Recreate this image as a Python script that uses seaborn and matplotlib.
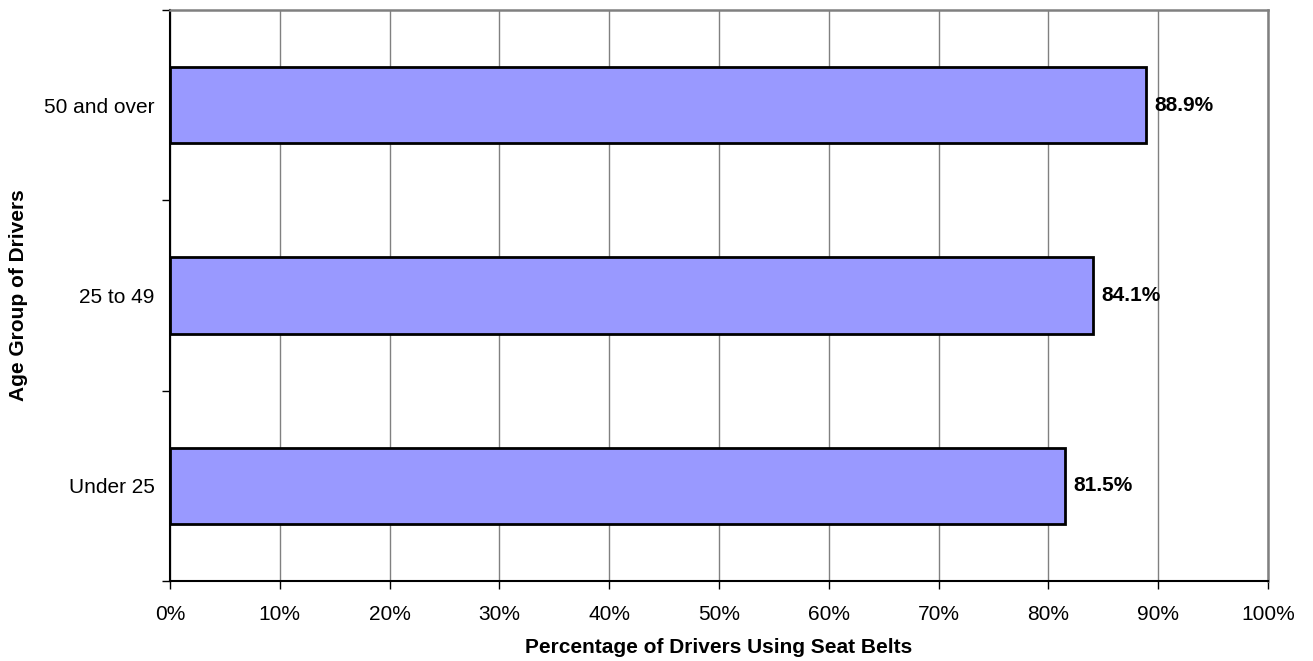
import matplotlib
matplotlib.use("Agg")
import matplotlib.pyplot as plt
import seaborn as sns
import pandas as pd
import numpy as np

age_groups = ["50 and over", "25 to 49", "Under 25"]
belt_use = [88.9, 84.1, 81.5]
x_ticks = [0, 10, 20, 30, 40, 50, 60, 70, 80, 90, 100]

df = pd.DataFrame({"group": age_groups, "pct": belt_use})

sns.set_theme(style="white")
plt.rcParams["font.family"] = ["Liberation Sans", "DejaVu Sans"]
plt.rcParams["text.color"] = "black"
plt.rcParams["axes.labelcolor"] = "black"
plt.rcParams["xtick.color"] = "black"
plt.rcParams["ytick.color"] = "black"

fig = plt.figure(figsize=(13.13, 6.61), dpi=100)
ax = fig.add_axes([170 / 1313, 1 - 581 / 661, (1268 - 170) / 1313, (581 - 10) / 661])

sns.barplot(data=df, x="pct", y="group", order=age_groups, color="#9999FF",
            saturation=1, width=0.4, edgecolor="black", linewidth=2, ax=ax, zorder=3)

ax.set_xlim(0, 100)
ax.set_ylim(len(age_groups) - 0.5, -0.5)
ax.set_xticks(x_ticks)
ax.set_xticklabels([f"{t}%" for t in x_ticks], fontsize=15)
ax.set_yticks(range(len(age_groups)))
ax.set_yticklabels(age_groups, fontsize=15)
ax.tick_params(axis="y", length=0, pad=11)
ax.set_yticks(np.arange(-0.5, len(age_groups), 1), minor=True)
ax.tick_params(axis="y", which="minor", length=6, width=1, color="black", direction="out", left=True)
ax.tick_params(axis="x", length=6, width=1, color="black", direction="out", bottom=True, pad=11)

ax.grid(axis="x", color="#808080", linewidth=1, zorder=0)
ax.set_axisbelow(True)

for side in ["left", "bottom"]:
    ax.spines[side].set_color("black")
    ax.spines[side].set_linewidth(1.5)
for side in ["top", "right"]:
    ax.spines[side].set_color("#808080")
    ax.spines[side].set_linewidth(1.8)

for i, v in enumerate(belt_use):
    ax.annotate(f"{v}%", xy=(v, i), xytext=(6, 0), textcoords="offset points",
                va="center", ha="left", fontsize=15, fontweight="bold", zorder=4)

ax.set_xlabel("Percentage of Drivers Using Seat Belts", fontsize=15, fontweight="bold")
ax.set_ylabel("Age Group of Drivers", fontsize=15, fontweight="bold")
ax.xaxis.set_label_coords(0.5, (581 - 638) / 571)
ax.yaxis.set_label_coords((28 - 170) / 1098, 0.5)

fig.savefig("out.png", dpi=100)
